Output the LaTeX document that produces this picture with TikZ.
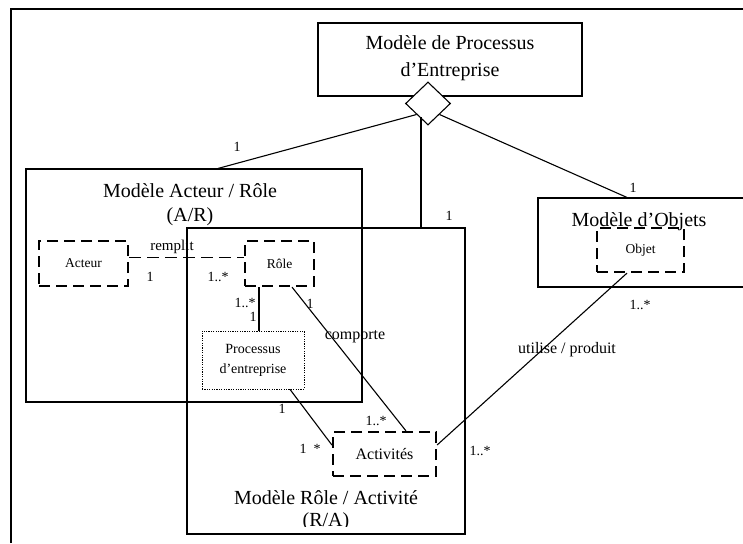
\documentclass[tikz,border=0pt]{standalone}
\usepackage{fontspec}
\setmainfont{Liberation Serif}
\usetikzlibrary{shapes.geometric,calc}

\begin{document}
\begin{tikzpicture}[x=1pt,y=-1pt,line width=1.1pt]
        \tikzstyle{every node}=[inner sep=0pt]
        \tikzstyle{modele}=[draw,rectangle]
        \tikzstyle{classe}=[draw,rectangle,line width=2.2pt,dash pattern=on 11pt off 6pt,font=\fontsize{13.5}{16}\selectfont]
        \tikzstyle{procbox}=[draw,rectangle,line width=0.8pt,dash pattern=on 1.2pt off 1.2pt,align=center,font=\fontsize{14}{20}\selectfont]
        \tikzstyle{titre}=[align=center,font=\fontsize{20}{24}\selectfont]
        \tikzstyle{mult}=[font=\fontsize{14}{16}\selectfont]
        \tikzstyle{verbe}=[font=\fontsize{16}{18}\selectfont]
        \useasboundingbox (0,0) rectangle (743,543);
        \draw (11,543) -- (11,9) -- (743,9);
        \node[modele,minimum width=264pt,minimum height=73pt] (mpe) at (450,59.5) {};
        \node[titre,font=\fontsize{20}{27}\selectfont] (mpetxt) at (450,58.5) {Modèle de Processus\\d’Entreprise};
        \node[modele,minimum width=336pt,minimum height=233pt] (ar) at (194,285.5) {};
        \node[titre] (artxt) at (190,205) {Modèle Acteur / Rôle\\(A/R)};
        \node[modele,minimum width=278pt,minimum height=306pt] (ra) at (326,381) {};
        \node[titre] (ratxt) at (326,498) {Modèle Rôle / Activité};
        \begin{scope}
            \clip (190,505) rectangle (462,526);
            \node[titre] (ratxt2) at (326,522) {(R/A)};
        \end{scope}
        \node[modele,minimum width=207pt,minimum height=89pt] (objets) at (641.5,242.5) {};
        \node[titre] (objtxt) at (639,222) {Modèle d’Objets};
        \node[classe,minimum width=87pt,minimum height=44pt] (objet) at (640.5,250) {Objet};
        \node[classe,minimum width=89pt,minimum height=45pt] (acteur) at (83.5,263.5) {Acteur};
        \node[classe,minimum width=69pt,minimum height=45pt] (role) at (279.5,263.5) {Rôle};
        \node[procbox,minimum width=102pt,minimum height=58pt] (proc) at (253,360) {Processus\\d’entreprise};
        \node[classe,minimum width=103pt,minimum height=44pt,font=\fontsize{16}{18}\selectfont] (act) at (384.5,454) {Activités};
        \node[diamond,draw,fill=white,minimum width=45pt,minimum height=43pt] (losange) at (428,103.5) {};
        \draw (losange.south west) -- ($(ar.north)+(24,0)$);
        \draw ($(ra.north)+(95,0)$) -- ++(0,-110);
        \draw (losange.south east) -- ($(objets.north)+(-14.5,0)$);
        \draw[line width=1.6pt,dash pattern=on 12pt off 6pt] ($(acteur.east)+(0,-6)$) -- ($(role.west)+(0,-6)$);
        \draw ($(role.south)+(-20.5,0)$) coordinate (rp) -- (rp |- proc.north);
        \draw ($(role.south)+(12.5,0)$) -- ($(act.north)+(21.5,0)$);
        \draw ($(proc.south)+(37,0)$) -- ($(act.west)+(0,-9)$);
        \draw ($(objet.south)+(-13.5,0)$) -- ($(act.east)+(0,-9)$);
        \node[mult] at (237,147) {1};
        \node[mult] at (449,216) {1};
        \node[mult] at (633,188) {1};
        \node[verbe,font=\fontsize{15}{18}\selectfont] at (172,247) {remplit};
        \node[mult] at (150,277) {1};
        \node[mult] at (218,277) {1..*};
        \node[mult] at (245,303) {1..*};
        \node[mult] at (253,317) {1};
        \node[mult] at (310,304) {1};
        \node[verbe] at (355,337) {comporte};
        \node[mult] at (376,421) {1..*};
        \node[mult] at (282,409) {1};
        \node[mult] at (310,449) {1\phantom{..}*};
        \node[mult] at (640,305) {1..*};
        \node[verbe] at (567,350) {utilise / produit};
        \node[mult] at (480,451) {1..*};
\end{tikzpicture}
\end{document}
